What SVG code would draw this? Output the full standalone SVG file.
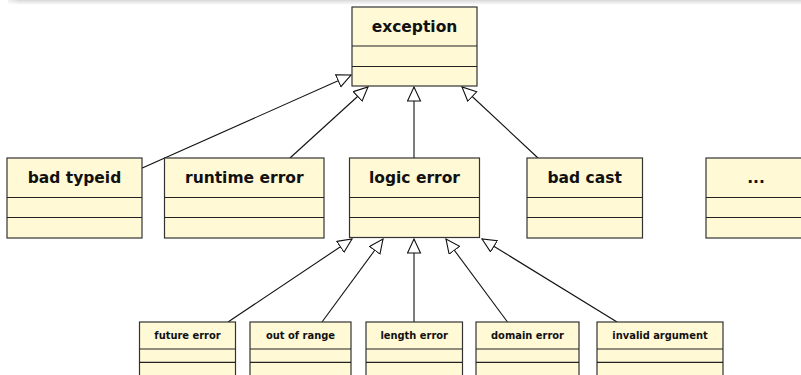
<svg xmlns="http://www.w3.org/2000/svg" width="801" height="375" viewBox="0 0 801 375">
<style>
.box{fill:#FFF9D6;stroke:#333;stroke-width:1.2}
.div{stroke:#222;stroke-width:1.2}
.t1{font-family:"DejaVu Sans",sans-serif;font-weight:bold;font-size:15.5px;fill:#111;text-anchor:middle}
.t2{font-family:"DejaVu Sans Condensed","DejaVu Sans",sans-serif;font-stretch:condensed;font-weight:bold;font-size:11px;fill:#111;text-anchor:middle}
.edge{stroke:#111;stroke-width:1.1;fill:none;marker-end:url(#tri)}
</style>
<defs>
<marker id="tri" markerUnits="userSpaceOnUse" markerWidth="18" markerHeight="16" refX="14.5" refY="7" orient="auto" viewBox="0 0 18 16">
<path d="M0.5,0.5 L14.5,7 L0.5,13.5 Z" fill="#fff" stroke="#111" stroke-width="1.1"/>
</marker>
<linearGradient id="top" x1="0" y1="0" x2="0" y2="1">
<stop offset="0" stop-color="#d8d8d8"/>
<stop offset="1" stop-color="#ffffff"/>
</linearGradient>
<linearGradient id="fadeL" x1="0" y1="0" x2="1" y2="0">
<stop offset="0" stop-color="#fff" stop-opacity="1"/>
<stop offset="1" stop-color="#fff" stop-opacity="0"/>
</linearGradient>
</defs>
<rect x="0" y="0" width="801" height="375" fill="#fff"/>
<rect x="8" y="0" width="793" height="5" fill="url(#top)"/>
<rect x="0" y="0" width="20" height="5" fill="url(#fadeL)"/>

<g id="connectors">
<line class="edge" x1="141.7" y1="168.3" x2="351" y2="75"/>
<line class="edge" x1="290" y1="158" x2="368" y2="87"/>
<line class="edge" x1="414" y1="158" x2="414" y2="87"/>
<line class="edge" x1="538" y1="158" x2="462" y2="87"/>
<line class="edge" x1="228" y1="322" x2="352" y2="239"/>
<line class="edge" x1="322" y1="322" x2="383" y2="239"/>
<line class="edge" x1="414" y1="322" x2="414" y2="239"/>
<line class="edge" x1="507.5" y1="322" x2="446" y2="239"/>
<line class="edge" x1="617" y1="322" x2="482" y2="239"/>
</g>

<g id="exception">
<rect class="box" x="352" y="7" width="125" height="79"/>
<line class="div" x1="352" y1="46" x2="477" y2="46"/>
<line class="div" x1="352" y1="66.5" x2="477" y2="66.5"/>
<text class="t1" x="414.5" y="31.5">exception</text>
</g>

<g id="bad_typeid">
<rect class="box" x="7" y="158" width="135" height="80"/>
<line class="div" x1="7" y1="197.5" x2="142" y2="197.5"/>
<line class="div" x1="7" y1="217.5" x2="142" y2="217.5"/>
<text class="t1" x="74.5" y="183">bad typeid</text>
</g>

<g id="runtime_error">
<rect class="box" x="164.5" y="158" width="159.5" height="80"/>
<line class="div" x1="164.5" y1="197.5" x2="324" y2="197.5"/>
<line class="div" x1="164.5" y1="217.5" x2="324" y2="217.5"/>
<text class="t1" x="244.3" y="183">runtime error</text>
</g>

<g id="logic_error">
<rect class="box" x="349.5" y="158" width="130" height="79.5"/>
<line class="div" x1="349.5" y1="197.5" x2="479.5" y2="197.5"/>
<line class="div" x1="349.5" y1="217.5" x2="479.5" y2="217.5"/>
<text class="t1" x="414.5" y="183">logic error</text>
</g>

<g id="bad_cast">
<rect class="box" x="527" y="158" width="115.5" height="80"/>
<line class="div" x1="527" y1="197.5" x2="642.5" y2="197.5"/>
<line class="div" x1="527" y1="217.5" x2="642.5" y2="217.5"/>
<text class="t1" x="584.7" y="183">bad cast</text>
</g>

<g id="more">
<rect class="box" x="706" y="158" width="110" height="80"/>
<line class="div" x1="706" y1="197.5" x2="816" y2="197.5"/>
<line class="div" x1="706" y1="217.5" x2="816" y2="217.5"/>
<text class="t1" x="756" y="183">...</text>
</g>

<g id="future_error">
<rect class="box" x="139.5" y="322" width="96" height="70"/>
<line class="div" x1="139.5" y1="349" x2="235.5" y2="349"/>
<line class="div" x1="139.5" y1="362.3" x2="235.5" y2="362.3"/>
<text class="t2" x="187.5" y="339">future error</text>
</g>

<g id="out_of_range">
<rect class="box" x="250" y="322" width="101" height="70"/>
<line class="div" x1="250" y1="349" x2="351" y2="349"/>
<line class="div" x1="250" y1="362.3" x2="351" y2="362.3"/>
<text class="t2" x="300.5" y="339">out of range</text>
</g>

<g id="length_error">
<rect class="box" x="366" y="322" width="96.5" height="70"/>
<line class="div" x1="366" y1="349" x2="462.5" y2="349"/>
<line class="div" x1="366" y1="362.3" x2="462.5" y2="362.3"/>
<text class="t2" x="414.2" y="339">length error</text>
</g>

<g id="domain_error">
<rect class="box" x="476" y="322" width="103" height="70"/>
<line class="div" x1="476" y1="349" x2="579" y2="349"/>
<line class="div" x1="476" y1="362.3" x2="579" y2="362.3"/>
<text class="t2" x="527.5" y="339">domain error</text>
</g>

<g id="invalid_argument">
<rect class="box" x="597" y="322" width="126" height="70"/>
<line class="div" x1="597" y1="349" x2="723" y2="349"/>
<line class="div" x1="597" y1="362.3" x2="723" y2="362.3"/>
<text class="t2" x="660" y="339">invalid argument</text>
</g>
</svg>
